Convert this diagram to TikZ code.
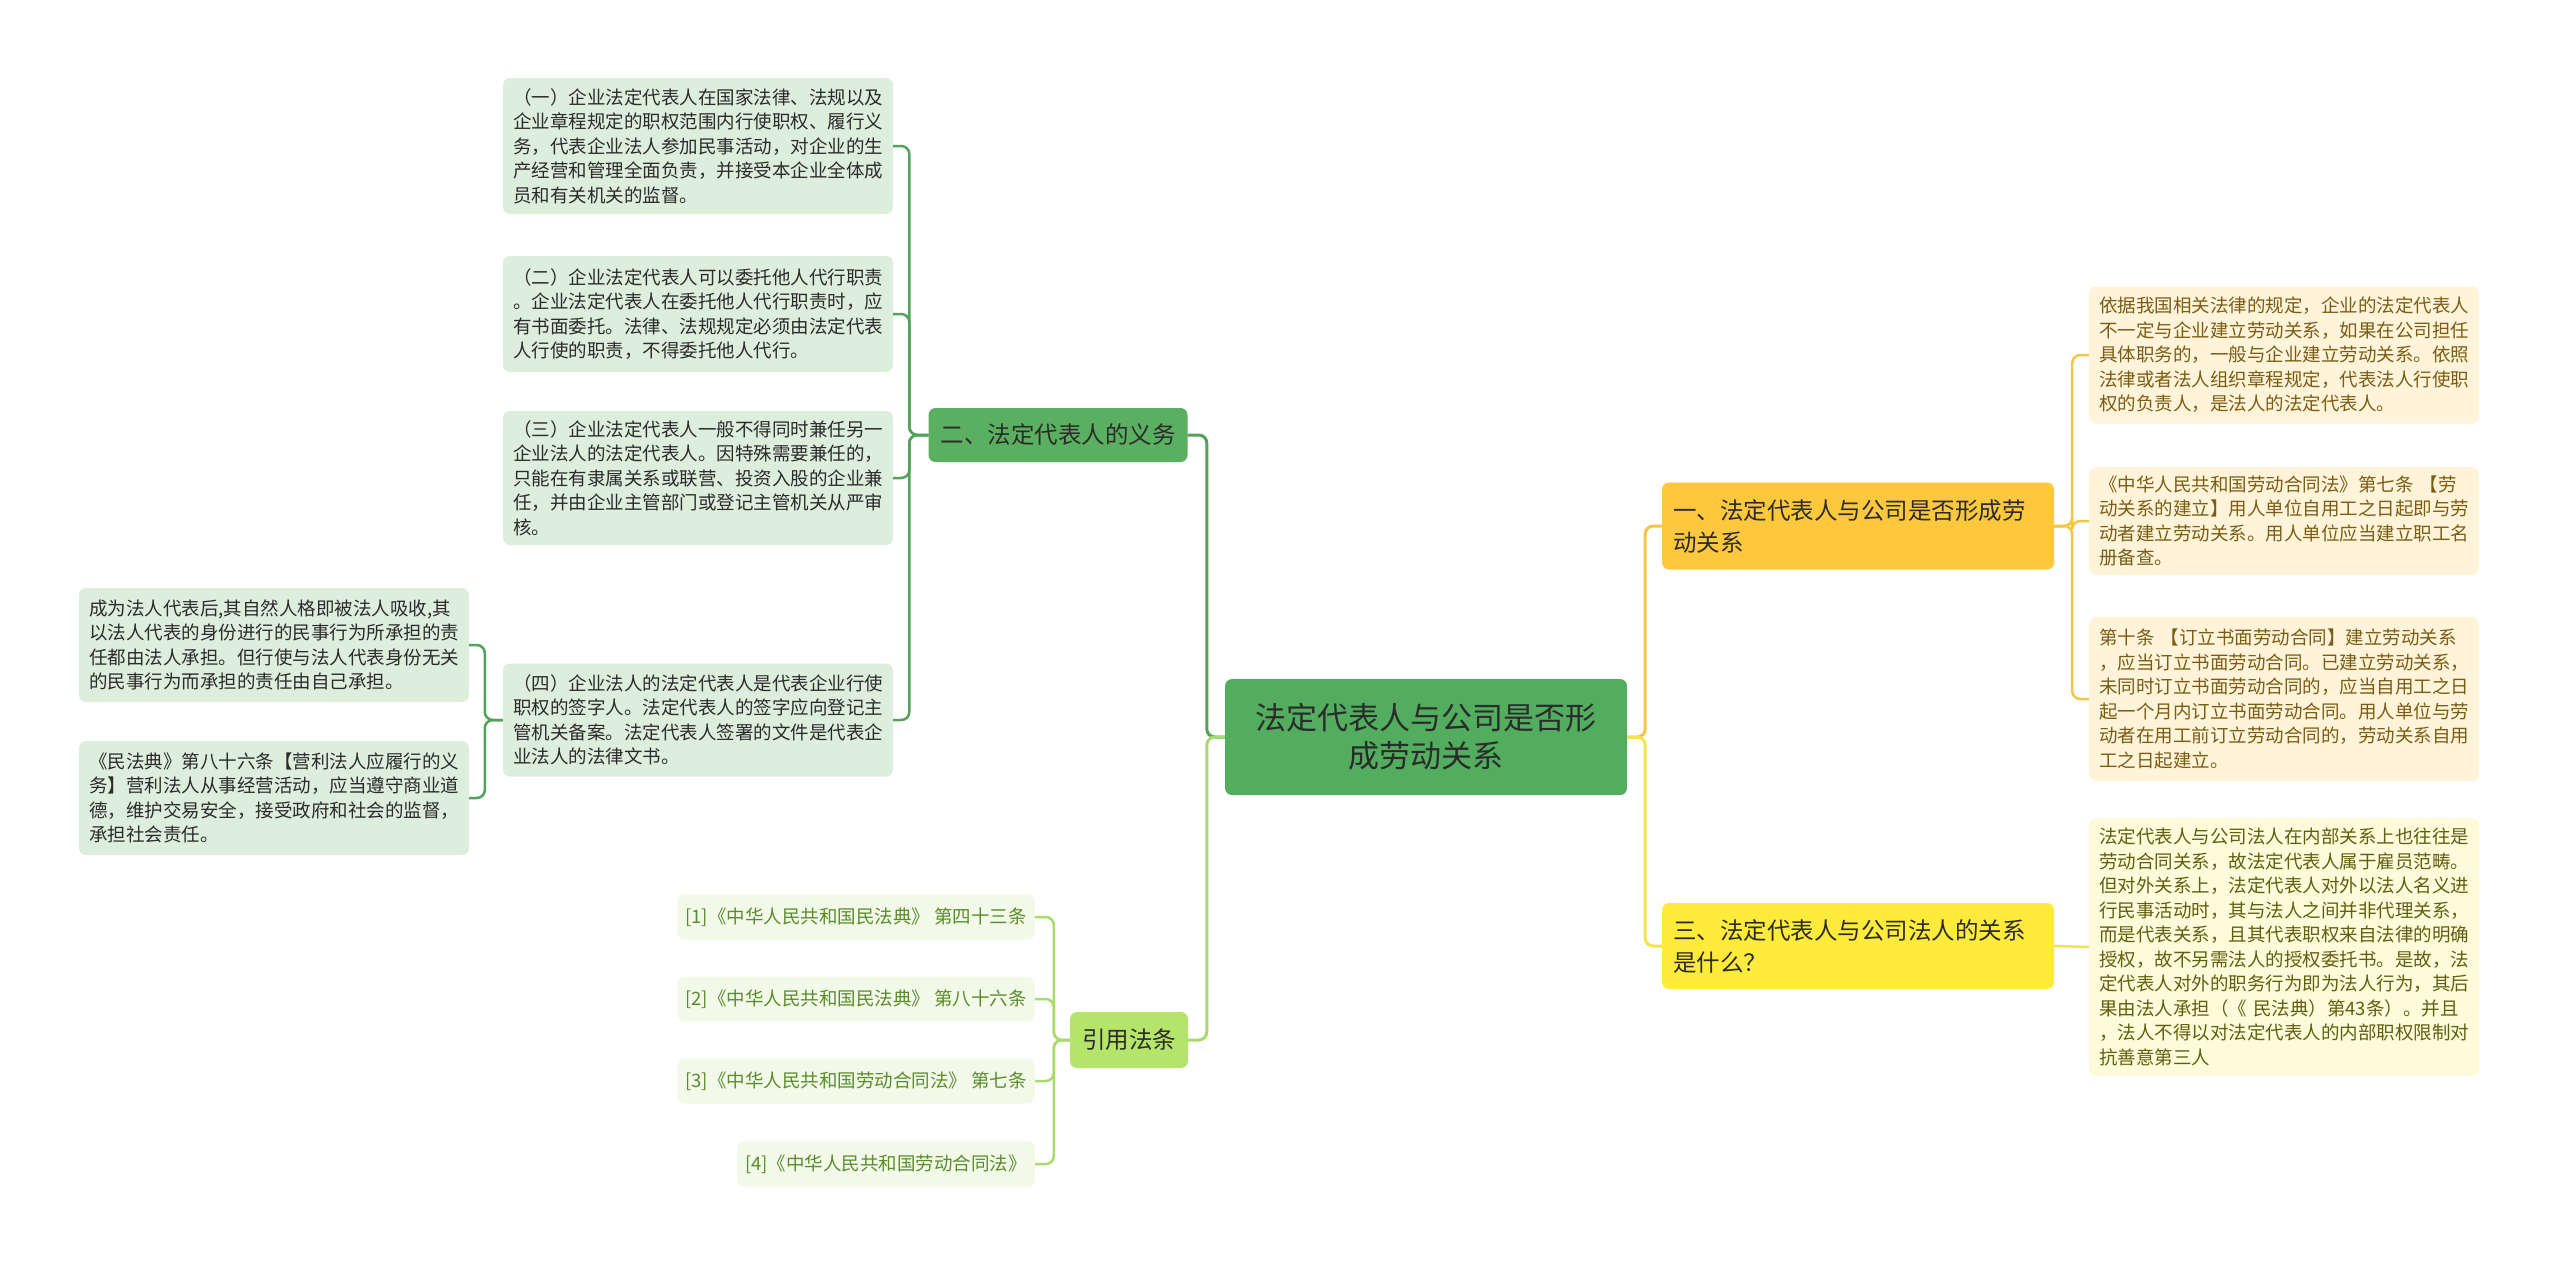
\documentclass[tikz,border=0pt]{standalone}
\usepackage{fontspec}
\setmainfont{Noto Sans CJK SC}
\usepackage{tikz}
\usetikzlibrary{positioning}
\definecolor{rootfill}{HTML}{52AE5E}
\definecolor{dutyfill}{HTML}{5BAF60}
\definecolor{citefill}{HTML}{B4E46A}
\definecolor{relfill}{HTML}{FEC83E}
\definecolor{corpfill}{HTML}{FFEB3B}
\definecolor{gleaffill}{HTML}{DDEEDC}
\definecolor{cleaffill}{HTML}{F2F9E9}
\definecolor{rleaffill}{HTML}{FFF4DA}
\definecolor{qleaffill}{HTML}{FFFBDA}
\definecolor{darktext}{HTML}{2B2B2B}
\definecolor{ctext}{HTML}{5A8C2C}
\definecolor{rtext}{HTML}{7A5C14}
\definecolor{qtext}{HTML}{625E10}
\definecolor{dutyline}{HTML}{53A25A}
\definecolor{citeline}{HTML}{A9DA6E}
\definecolor{relline}{HTML}{F5C645}
\definecolor{corpline}{HTML}{F4E44A}

\begin{document}
\begin{tikzpicture}[
  x=1pt, y=-1pt,
  every node/.style={rounded corners=7pt, inner sep=0pt},
  main/.style={fill=rootfill, text=darktext, align=center, font=\fontsize{31}{38}\selectfont, minimum width=402pt, minimum height=116pt},
  branch/.style={text=darktext, align=center, inner xsep=12pt, font=\fontsize{23.5}{32}\selectfont},
  widebranch/.style={text=darktext, align=left, text width=370pt, inner xsep=11pt, font=\fontsize{23.5}{32}\selectfont},
  leaf/.style={align=left, text width=370pt, inner xsep=10pt, font=\fontsize{18.5}{24.5}\selectfont},
  gleaf/.style={leaf, fill=gleaffill, text=darktext},
  rleaf/.style={leaf, fill=rleaffill, text=rtext},
  cleaf/.style={fill=cleaffill, text=ctext, anchor=east, inner xsep=8pt, minimum height=45pt, font=\fontsize{18.5}{22}\selectfont},
  link/.style={line width=3pt, rounded corners=8pt},
  leaflink/.style={line width=2.5pt, rounded corners=8pt}
]
\useasboundingbox[fill=white] (0,0) rectangle (2560,1264);

\node[main] (root) at (1426,737) {法定代表人与公司是否形\\成劳动关系};

\node[branch, fill=dutyfill, minimum height=54pt] (duty) at (1058,435) {二、法定代表人的义务};
\node[branch, fill=citefill, minimum height=56pt] (cite) at (1129,1040) {引用法条};
\node[widebranch, fill=relfill, minimum height=87pt] (rel) at (1858,526) {一、法定代表人与公司是否形成劳\\动关系};
\node[widebranch, fill=corpfill, minimum height=86pt] (corp) at (1858,946) {三、法定代表人与公司法人的关系\\是什么？};

\node[gleaf, minimum height=136pt] (d1) at (698,146) {（一）企业法定代表人在国家法律、法规以及\\企业章程规定的职权范围内行使职权、履行义\\务，代表企业法人参加民事活动，对企业的生\\产经营和管理全面负责，并接受本企业全体成\\员和有关机关的监督。};
\node[gleaf, minimum height=116pt] (d2) at (698,314) {（二）企业法定代表人可以委托他人代行职责\\。企业法定代表人在委托他人代行职责时，应\\有书面委托。法律、法规规定必须由法定代表\\人行使的职责，不得委托他人代行。};
\node[gleaf, minimum height=134pt] (d3) at (698,478) {（三）企业法定代表人一般不得同时兼任另一\\企业法人的法定代表人。因特殊需要兼任的，\\只能在有隶属关系或联营、投资入股的企业兼\\任，并由企业主管部门或登记主管机关从严审\\核。};
\node[gleaf, minimum height=113pt] (d4) at (698,720) {（四）企业法人的法定代表人是代表企业行使\\职权的签字人。法定代表人的签字应向登记主\\管机关备案。法定代表人签署的文件是代表企\\业法人的法律文书。};

\node[gleaf, minimum height=114pt] (d4a) at (274,645) {成为法人代表后,其自然人格即被法人吸收,其\\以法人代表的身份进行的民事行为所承担的责\\任都由法人承担。但行使与法人代表身份无关\\的民事行为而承担的责任由自己承担。};
\node[gleaf, minimum height=114pt] (d4b) at (274,798) {《民法典》第八十六条【营利法人应履行的义\\务】营利法人从事经营活动，应当遵守商业道\\德，维护交易安全，接受政府和社会的监督，\\承担社会责任。};

\node[cleaf] (c1) at (1035,917) {[1]《中华人民共和国民法典》 第四十三条};
\node[cleaf] (c2) at (1035,999) {[2]《中华人民共和国民法典》 第八十六条};
\node[cleaf] (c3) at (1035,1081) {[3]《中华人民共和国劳动合同法》 第七条};
\node[cleaf] (c4) at (1035,1164) {[4]《中华人民共和国劳动合同法》};

\node[rleaf, minimum height=137pt] (r1) at (2284,355) {依据我国相关法律的规定，企业的法定代表人\\不一定与企业建立劳动关系，如果在公司担任\\具体职务的，一般与企业建立劳动关系。依照\\法律或者法人组织章程规定，代表法人行使职\\权的负责人，是法人的法定代表人。};
\node[rleaf, minimum height=108pt] (r2) at (2284,521) {《中华人民共和国劳动合同法》第七条 【劳\\动关系的建立】用人单位自用工之日起即与劳\\动者建立劳动关系。用人单位应当建立职工名\\册备查。};
\node[rleaf, minimum height=164pt] (r3) at (2284,699) {第十条 【订立书面劳动合同】建立劳动关系\\，应当订立书面劳动合同。已建立劳动关系，\\未同时订立书面劳动合同的，应当自用工之日\\起一个月内订立书面劳动合同。用人单位与劳\\动者在用工前订立劳动合同的，劳动关系自用\\工之日起建立。};
\node[leaf, fill=qleaffill, text=qtext, minimum height=258pt] (r4) at (2284,947) {法定代表人与公司法人在内部关系上也往往是\\劳动合同关系，故法定代表人属于雇员范畴。\\但对外关系上，法定代表人对外以法人名义进\\行民事活动时，其与法人之间并非代理关系，\\而是代表关系，且其代表职权来自法律的明确\\授权，故不另需法人的授权委托书。是故，法\\定代表人对外的职务行为即为法人行为，其后\\果由法人承担（《 民法典）第43条）。并且\\，法人不得以对法定代表人的内部职权限制对\\抗善意第三人};

\draw[link, dutyline] (root.west) -- ++(-18,0) |- (duty.east);
\draw[link, citeline] (root.west) -- ++(-18,0) |- (cite.east);

\draw[leaflink, dutyline] (duty.west) -- ++(-19,0) |- (d1.east);
\draw[leaflink, dutyline] (duty.west) -- ++(-19,0) |- (d2.east);
\draw[leaflink, dutyline] (duty.west) -- ++(-19,0) |- (d3.east);
\draw[leaflink, dutyline] (duty.west) -- ++(-19,0) |- (d4.east);

\draw[leaflink, dutyline] (d4.west) -- ++(-18,0) |- (d4a.east);
\draw[leaflink, dutyline] (d4.west) -- ++(-18,0) |- (d4b.east);

\draw[leaflink, citeline] (cite.west) -- ++(-16,0) |- (c1.east);
\draw[leaflink, citeline] (cite.west) -- ++(-16,0) |- (c2.east);
\draw[leaflink, citeline] (cite.west) -- ++(-16,0) |- (c3.east);
\draw[leaflink, citeline] (cite.west) -- ++(-16,0) |- (c4.east);

\draw[link, relline] (root.east) -- ++(18,0) |- (rel.west);
\draw[link, corpline] (root.east) -- ++(18,0) |- (corp.west);

\draw[leaflink, relline] (rel.east) -- ++(18,0) |- (r1.west);
\draw[leaflink, relline] (rel.east) -- ++(18,0) |- (r2.west);
\draw[leaflink, relline] (rel.east) -- ++(18,0) |- (r3.west);
\draw[leaflink, corpline] (corp.east) -- (r4.west);
\end{tikzpicture}
\end{document}
